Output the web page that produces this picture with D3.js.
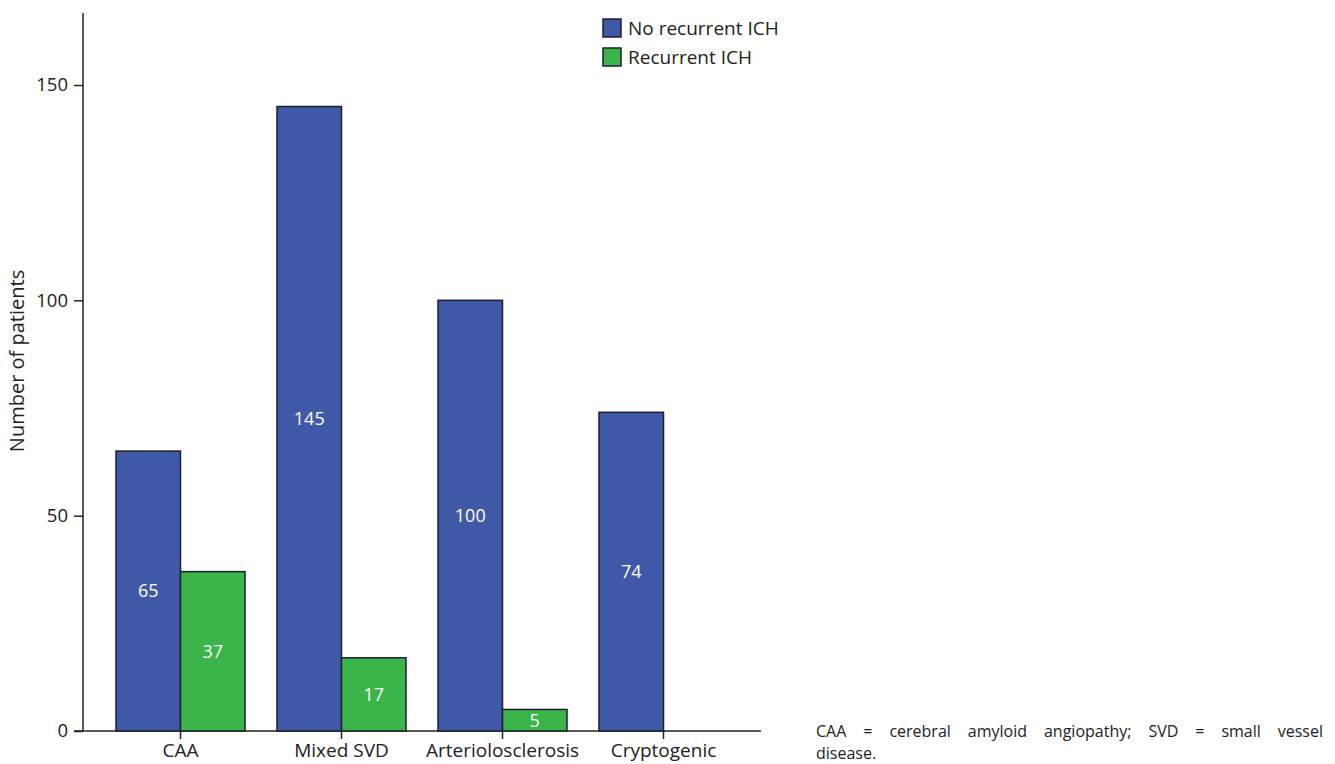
<!DOCTYPE html>
<html>
<head>
<meta charset="utf-8">
<script src="https://cdn.jsdelivr.net/npm/d3@7"></script>
<style>
    body { margin: 0; background: #fff; }
    svg { display: block; }
    svg text { font-family: "Open Sans", "Noto Sans", sans-serif; }
</style>
</head>
<body>
<svg id="chart" width="1335" height="764"></svg>
<script>
var categories = ["CAA", "Mixed SVD", "Arteriolosclerosis", "Cryptogenic"];
var seriesNames = ["No recurrent ICH", "Recurrent ICH"];
var noRecurrent = [65, 145, 100, 74];
var recurrent = [37, 17, 5, null];
var yTicks = [0, 50, 100, 150];
var colors = ["#3f58a8", "#3bb54a"];

var svg = d3.select("#chart");

var x = d3.scaleBand()
    .domain(categories)
    .range([100, 744])
    .padding(0);

var y = d3.scaleLinear()
    .domain([0, 150])
    .range([731, 85]);

var barW = 64.5;

// axes
var yAxis = d3.axisLeft(y).tickValues(yTicks).tickSize(9).tickPadding(6);
var gy = svg.append("g").attr("transform", "translate(83,0)").call(yAxis);
gy.select(".domain").remove();
gy.append("line").attr("x1", 0).attr("x2", 0).attr("y1", 13).attr("y2", 731)
    .attr("stroke", "#222").attr("stroke-width", 1.5);
gy.selectAll(".tick line").attr("stroke", "#222").attr("stroke-width", 1.5);
gy.selectAll(".tick text").attr("fill", "#222").style("font-size", "18.5px");

var xAxis = d3.axisBottom(x).tickSize(8).tickPadding(5);
var gx = svg.append("g").attr("transform", "translate(0,731)").call(xAxis);
gx.select(".domain").remove();
gx.append("line").attr("x1", 74).attr("x2", 761).attr("y1", 0).attr("y2", 0)
    .attr("stroke", "#222").attr("stroke-width", 1.5);
gx.selectAll(".tick line").attr("stroke", "#222").attr("stroke-width", 1.5);
gx.selectAll(".tick text").attr("fill", "#222").style("font-size", "19px");

// bars
var series = [noRecurrent, recurrent];
series.forEach(function (vals, si) {
    var rows = categories.map(function (c, i) { return { cat: c, v: vals[i] }; })
        .filter(function (d) { return d.v != null; });
    var xs = function (d) { return x(d.cat) + x.bandwidth() / 2 - barW + si * barW; };

    svg.append("g").selectAll("rect")
        .data(rows)
        .enter()
        .append("rect")
        .attr("x", xs)
        .attr("y", function (d) { return y(d.v); })
        .attr("width", barW)
        .attr("height", function (d) { return y(0) - y(d.v); })
        .attr("fill", colors[si])
        .attr("stroke", "#1c1f2e")
        .attr("stroke-width", 1.5);

    svg.append("g").selectAll("text")
        .data(rows)
        .enter()
        .append("text")
        .attr("x", function (d) { return xs(d) + barW / 2; })
        .attr("y", function (d) { return (y(d.v) + y(0)) / 2; })
        .attr("dy", "0.35em")
        .attr("text-anchor", "middle")
        .attr("fill", "#fff")
        .style("font-size", "18px")
        .text(function (d) { return d.v; });
});

// y label
svg.append("text")
    .attr("transform", "translate(24,361) rotate(-90)")
    .attr("text-anchor", "middle")
    .attr("fill", "#222")
    .style("font-size", "20px")
    .text("Number of patients");

// legend
var legend = svg.append("g").selectAll("g")
    .data(seriesNames)
    .enter()
    .append("g")
    .attr("transform", function (d, i) { return "translate(603," + (19 + i * 29) + ")"; });
legend.append("rect").attr("width", 18).attr("height", 18)
    .attr("fill", function (d, i) { return colors[i]; })
    .attr("stroke", "#1c1f2e").attr("stroke-width", 1.5);
legend.append("text").attr("x", 25).attr("y", 9).attr("dy", "0.35em")
    .attr("fill", "#222").style("font-size", "19px")
    .text(function (d) { return d; });

// footnote, justified by word spacing
var line1 = "CAA = cerebral amyloid angiopathy; SVD = small vessel";
var note = svg.append("text").attr("x", 816).attr("y", 737)
    .attr("fill", "#222").style("font-size", "16px").text(line1);
var natural = note.node().getComputedTextLength();
var gaps = line1.split(" ").length - 1;
note.style("word-spacing", Math.max(0, (507 - natural) / gaps) + "px");
svg.append("text").attr("x", 816).attr("y", 759)
    .attr("fill", "#222").style("font-size", "16px").text("disease.");
</script>
</body>
</html>
